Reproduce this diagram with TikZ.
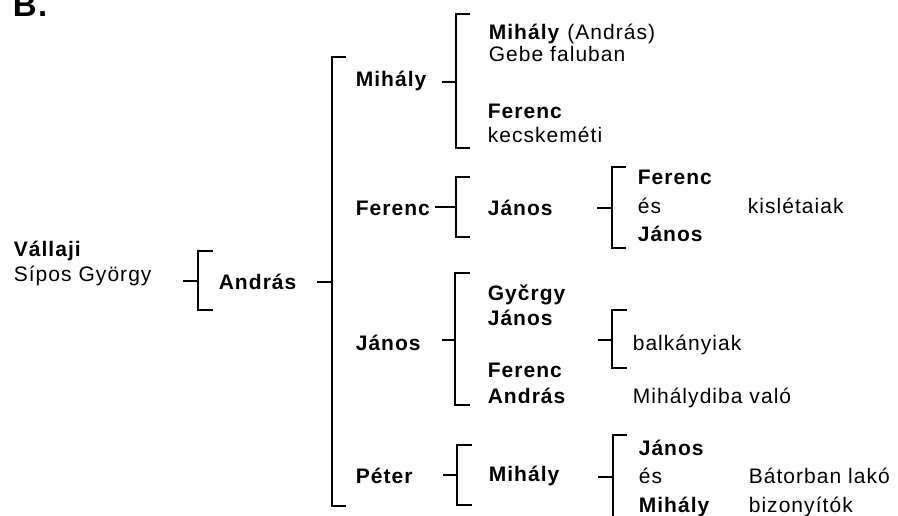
\documentclass[tikz,border=0pt]{standalone}
\usepackage{fontspec}
\setmainfont{Liberation Sans}[LetterSpace=5]
\begin{document}
\begin{tikzpicture}[x=1pt,y=-1pt,line width=1.6pt,
  every node/.style={anchor=base west,inner sep=0pt,font=\fontsize{21}{25}\selectfont},
  nm/.style={font=\fontsize{21}{25}\selectfont\bfseries}]
\useasboundingbox (0,0) rectangle (898,516);

% heading and the first man
\node[font=\fontsize{33}{33}\selectfont\bfseries] (head) at (12,17) {B.};
\node[nm] (vallaji) at (13,256) {Vállaji};
\node (sipos) at (13,281) {Sípos György};
\node[nm] (andras) at (218,290) {András};

% his sons
\node[nm] (mihaly) at (355,87) {Mihály};
\node[nm] (ferenc) at (355,215) {Ferenc};
\node[nm] (janos) at (355,350) {János};
\node[nm] (peter) at (355,483) {Péter};

% children of Mihály
\node (mihalyA) at (488,40) {\textbf{Mihály} (András)};
\node (gebe) at (488,62) {Gebe faluban};
\node[nm] (ferencM) at (487,119) {Ferenc};
\node (kecsk) at (487,143) {kecskeméti};

% children of Ferenc
\node[nm] (janosF) at (487,215) {János};
\node[nm] (ferencJ) at (637,185) {Ferenc};
\node (es1) at (637,214) {és};
\node[nm] (janosJ) at (637,242) {János};
\node (kislet) at (747,214) {kislétaiak};

% children of János
\node[nm] (gyorgy) at (487,300) {Gyčrgy};
\node[nm] (janosJ2) at (487,325) {János};
\node[nm] (ferencJ2) at (487,377) {Ferenc};
\node[nm] (andrasJ) at (487,403) {András};
\node (balk) at (632,350) {balkányiak};
\node (mihd) at (632,403) {Mihálydiba való};

% children of Péter
\node[nm] (mihalyP) at (488,481) {Mihály};
\node[nm] (janosP) at (638,455) {János};
\node (es2) at (638,483) {és};
\node[nm] (mihalyP2) at (638,512) {Mihály};
\node (bator) at (748,483) {Bátorban lakó};
\node (bizony) at (748,512) {bizonyítók};

% brackets
\draw (213,251) -- (198,251) -- (198,310) -- (213,310);
\draw (346,57) -- (332,57) -- (332,506) -- (346,506);
\draw (470,14) -- (456,14) -- (456,148) -- (470,148);
\draw (470,177) -- (456,177) -- (456,237) -- (470,237);
\draw (626,167) -- (612,167) -- (612,248) -- (626,248);
\draw (470,273) -- (455,273) -- (455,405) -- (470,405);
\draw (627,310) -- (612,310) -- (612,368) -- (627,368);
\draw (472,445) -- (457,445) -- (457,505) -- (472,505);
\draw (627,435) -- (613,435) -- (613,520);

% stubs into the brackets
\coordinate (s1) at (183,281); \coordinate (b1) at (198,281);
\coordinate (s2) at (317,282); \coordinate (b2) at (332,282);
\coordinate (s3) at (442,82);  \coordinate (b3) at (456,82);
\coordinate (s4) at (435,207); \coordinate (b4) at (456,207);
\coordinate (s5) at (597,208); \coordinate (b5) at (612,208);
\coordinate (s6) at (442,340); \coordinate (b6) at (455,340);
\coordinate (s7) at (598,340); \coordinate (b7) at (612,340);
\coordinate (s8) at (443,475); \coordinate (b8) at (457,475);
\coordinate (s9) at (598,477); \coordinate (b9) at (613,477);
\foreach \i in {1,...,9} \draw (s\i) -- (b\i);
\end{tikzpicture}
\end{document}
